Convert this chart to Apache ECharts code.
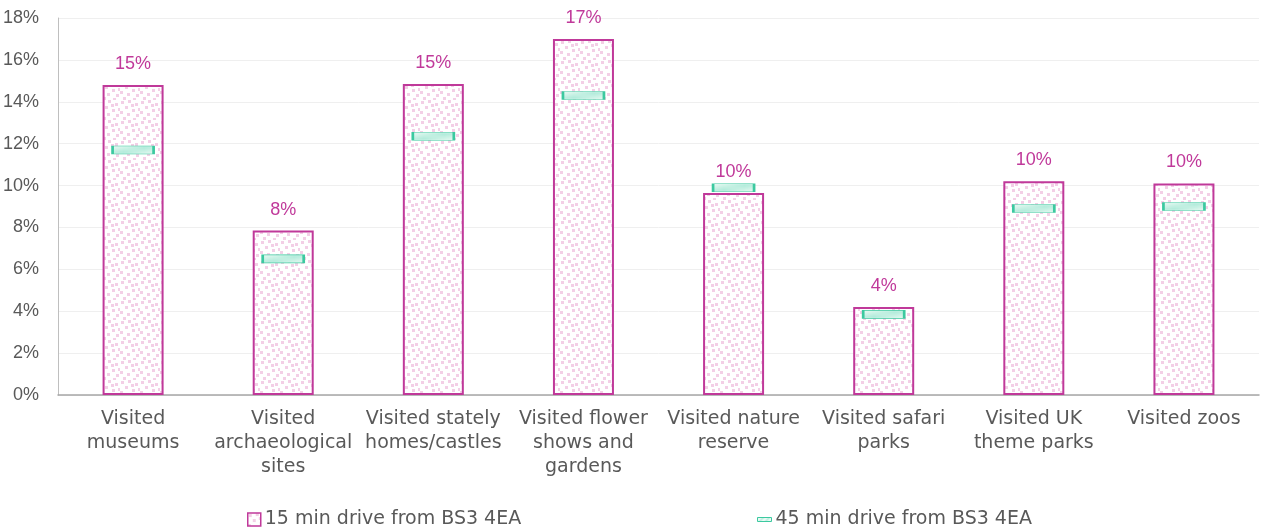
<!DOCTYPE html>
<html><head><meta charset="utf-8">
<script src="https://cdn.jsdelivr.net/npm/echarts@6/dist/echarts.min.js"></script>
<style>html,body{margin:0;padding:0;background:#fff}#c{width:1264px;height:532px}</style>
</head><body><div id="c"></div>
<script>
const categories = ['Visited\nmuseums','Visited\narchaeological\nsites','Visited stately\nhomes/castles','Visited flower\nshows and\ngardens','Visited nature\nreserve','Visited safari\nparks','Visited UK\ntheme parks','Visited zoos'];
const drive15 = [14.8, 7.85, 14.85, 17.0, 9.65, 4.2, 10.2, 10.1];
const drive45 = [11.7, 6.5, 12.35, 14.3, 9.9, 3.85, 8.9, 9.0];
const seriesNames = ['15 min drive from BS3 4EA','45 min drive from BS3 4EA'];

function pinkPattern(){
  const c=document.createElement('canvas');c.width=20;c.height=20;
  const g=c.getContext('2d');g.fillStyle='#ffffff';g.fillRect(0,0,20,20);
  g.fillStyle='#f3cfe6';
  const sq=[[1,1],[8,0],[15,3],[5,6],[12,9],[0,11],[7,13],[16,14],[3,17],[11,4],[18,8],[13,18]];
  sq.forEach(p=>g.fillRect(p[0],p[1],3,3));
  return c;
}
function tealPattern(){
  const c=document.createElement('canvas');c.width=6;c.height=6;
  const g=c.getContext('2d');g.fillStyle='#ecfaf5';g.fillRect(0,0,6,6);
  g.strokeStyle='#b4ecdc';g.lineWidth=1.5;
  g.beginPath();g.moveTo(0,6);g.lineTo(6,0);g.moveTo(-3,3);g.lineTo(3,-3);g.moveTo(3,9);g.lineTo(9,3);g.stroke();
  return c;
}
const pinkFill={image:pinkPattern(),repeat:'repeat'};
const tealFill={image:tealPattern(),repeat:'repeat'};
const xfont='"DejaVu Sans",sans-serif';
const nfont='"Liberation Sans",Arial,sans-serif';
const chart=echarts.init(document.getElementById('c'));
chart.setOption({
  animation:false,
  grid:{left:58,right:5,top:18,bottom:137},
  legend:[
    {top:510,left:247,padding:0,itemWidth:13,itemHeight:13,
     textStyle:{color:'#595959',fontSize:19,fontFamily:xfont,padding:[0,0,0,-1]},
     data:[{name:seriesNames[0],icon:'rect',itemStyle:{color:pinkFill,borderColor:'#c0399a',borderWidth:1.5}}]},
    {top:510,left:757,padding:0,itemWidth:14,itemHeight:4,
     textStyle:{color:'#595959',fontSize:19,fontFamily:xfont,padding:[0,0,0,-1]},
     data:[{name:seriesNames[1],icon:'rect',itemStyle:{color:tealFill,borderColor:'#3cc9a0',borderWidth:1}}]}
  ],
  xAxis:{type:'category',data:categories,
    axisLine:{lineStyle:{color:'#a6a6a6',width:1.5}},axisTick:{show:false},
    axisLabel:{interval:0,color:'#595959',fontSize:19,lineHeight:24,margin:12,fontFamily:xfont}},
  yAxis:{type:'value',min:0,max:18,interval:2,
    axisLine:{show:true,lineStyle:{color:'#bfbfbf'}},
    splitLine:{lineStyle:{color:'#efefef'}},
    axisLabel:{formatter:v=>v+'%',color:'#595959',fontSize:18,margin:19,fontFamily:nfont}},
  series:[
    {name:seriesNames[0],type:'bar',data:drive15,barWidth:61,z:2,
     itemStyle:{color:pinkFill,borderColor:'#c0399a',borderWidth:2},
     label:{show:true,position:'top',distance:12,color:'#c0399a',fontSize:18,fontFamily:nfont,formatter:p=>Math.round(p.value)+'%'}},
    {name:seriesNames[1],type:'scatter',data:drive45,symbol:'rect',symbolSize:[41,8],z:3,
     itemStyle:{color:tealFill,borderColor:'#3cc9a0',borderWidth:1.2,opacity:1}}
  ]
});
</script></body></html>
